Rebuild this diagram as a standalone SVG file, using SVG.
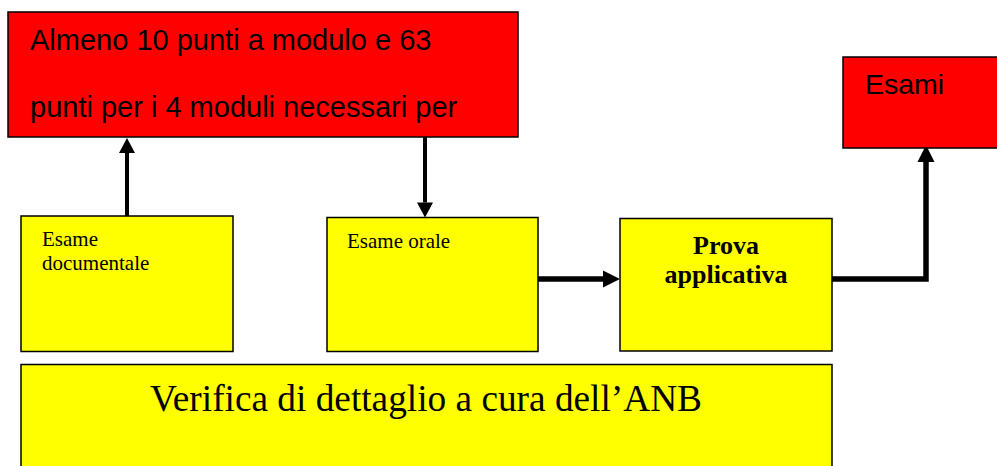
<svg xmlns="http://www.w3.org/2000/svg" width="997" height="466" viewBox="0 0 997 466">
  <style>
    .red { fill: #ff0000; stroke: #000; stroke-width: 1.5; }
    .yel { fill: #ffff00; stroke: #000; stroke-width: 1.5; }
    .sans { font-family: "Liberation Sans", Arial, sans-serif; fill: #000; }
    .serif { font-family: "Liberation Serif", "Times New Roman", serif; fill: #000; }
    .thin { fill: none; stroke: #000; stroke-width: 4; }
    .thick { fill: none; stroke: #000; stroke-width: 5.5; }
  </style>
  <defs>
    <marker id="ah" markerUnits="userSpaceOnUse" markerWidth="16" markerHeight="16" refX="0" refY="8" orient="auto" overflow="visible">
      <path d="M0,0 L15,8 L0,16 z" fill="#000"/>
    </marker>
    <marker id="ahb" markerUnits="userSpaceOnUse" markerWidth="18" markerHeight="18" refX="0" refY="8.5" orient="auto" overflow="visible">
      <path d="M0,0 L17,8.5 L0,17 z" fill="#000"/>
    </marker>
  </defs>
  <rect width="997" height="466" fill="#fff"/>

  <g id="connectors">
    <path class="thin" d="M127,216 L127,153" marker-end="url(#ah)"/>
    <path class="thin" d="M425,137 L425,202.5" marker-end="url(#ah)"/>
    <path class="thick" d="M538,279 L603,279" marker-end="url(#ahb)"/>
    <path class="thick" d="M832,279 H926 V162" marker-end="url(#ahb)"/>
  </g>

  <g id="node-requisiti">
    <rect class="red" x="8" y="12" width="510" height="125"/>
    <text class="sans" font-size="29" x="30" y="50">Almeno 10 punti a modulo e 63</text>
    <text class="sans" font-size="29" x="30" y="117">punti per i 4 moduli necessari per</text>
  </g>

  <g id="node-esami">
    <rect class="red" x="843" y="57" width="160" height="91"/>
    <text class="sans" font-size="28.5" x="865" y="94">Esami</text>
  </g>

  <g id="node-documentale">
    <rect class="yel" x="21" y="216" width="212" height="135.5"/>
    <text class="serif" font-size="21" x="42" y="246">Esame</text>
    <text class="serif" font-size="21" x="42" y="270">documentale</text>
  </g>

  <g id="node-orale">
    <rect class="yel" x="327" y="217.5" width="211" height="134"/>
    <text class="serif" font-size="21" x="347" y="248">Esame orale</text>
  </g>

  <g id="node-prova">
    <rect class="yel" x="620" y="218.5" width="212" height="132.5"/>
    <text class="serif" font-size="26" font-weight="bold" text-anchor="middle" x="726" y="254">Prova</text>
    <text class="serif" font-size="26" font-weight="bold" text-anchor="middle" x="726" y="283">applicativa</text>
  </g>

  <g id="node-verifica">
    <rect class="yel" x="21" y="364.5" width="811" height="110"/>
    <text class="serif" font-size="38" x="150" y="411" textLength="552" lengthAdjust="spacingAndGlyphs">Verifica di dettaglio a cura dell’ANB</text>
  </g>
</svg>
